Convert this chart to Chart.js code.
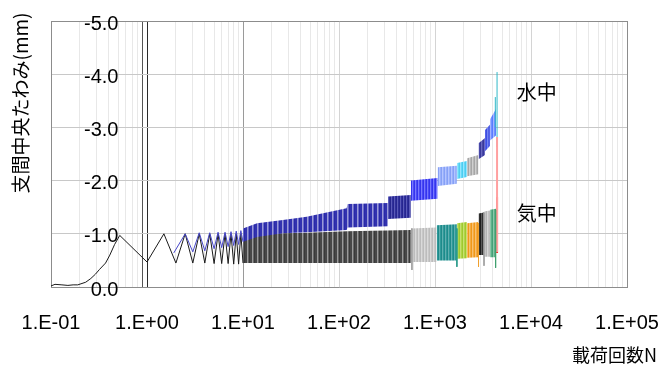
<!DOCTYPE html>
<html>
<head>
<meta charset="utf-8">
<script src="https://cdn.jsdelivr.net/npm/chart.js@4"></script>
<style>
  html, body { margin: 0; padding: 0; background: #fff; }
  #wrap { width: 672px; height: 365px; }
</style>
</head>
<body>
<div id="wrap"><canvas id="c" width="672" height="365"></canvas></div>
<script>
// axis ticks
const xTicks = [0.1, 1, 10, 100, 1000, 10000, 100000];
const xTickLabels = ['1.E-01', '1.E+00', '1.E+01', '1.E+02', '1.E+03', '1.E+04', '1.E+05'];
const yTicks = [-5, -4, -3, -2, -1, 0];
const yTickLabels = ['-5.0', '-4.0', '-3.0', '-2.0', '-1.0', '0.0'];

// 気中: first cycles, one point per peak / trough
const airZigN = [0.1, 0.11, 0.13, 0.15, 0.17, 0.19, 0.23, 0.26, 0.29, 0.32, 0.37, 0.41, 0.46, 0.52,
                 1, 1.5, 2, 2.5, 3, 3.5, 4, 4.5, 5, 5.5, 6, 6.5, 7, 7.5, 8, 8.5, 9, 9.5, 10];
const airZigD = [-0.02, -0.05, -0.04, -0.03, -0.04, -0.04, -0.09, -0.16, -0.24, -0.33, -0.45, -0.6, -0.8, -0.97,
                 -0.47, -1.0, -0.45, -1.0, -0.45, -1.0, -0.45, -1.0, -0.44, -1.0, -0.44, -1.0, -0.44, -1.0, -0.43, -1.0, -0.43, -1.0, -0.45];

// 水中: first cycles
const waterZigN = [1.9, 2.5, 3, 3.5, 4, 4.5, 5, 5.5, 6, 6.5, 7, 7.5, 8, 8.5, 9, 9.5, 10];
const waterZigD = [-0.64, -1.0, -0.66, -1.02, -0.68, -1.02, -0.72, -1.03, -0.74, -1.03, -0.76, -1.04, -0.78, -1.05, -0.8, -1.06, -0.85];

// 気中: later cycles as min/max envelopes, one block per recording
const airBandN = [[10, 16, 46, 121, 316, 560], [560, 1040], [1040, 1690], [1690, 2160],
                  [2160, 2840], [2840, 3240], [3240, 3730], [3730, 4330]];
const airBandMax = [[-0.98, -1.0, -1.02, -1.05, -1.06, -1.07], [-1.1, -1.12], [-1.16, -1.18], [-1.2, -1.22],
                    [-1.2, -1.22], [-1.38, -1.4], [-1.42, -1.44], [-1.45, -1.47]];
const airBandMin = [[-0.45, -0.45, -0.45, -0.45, -0.45, -0.45], [-0.47, -0.47], [-0.5, -0.5], [-0.53, -0.54],
                    [-0.55, -0.56], [-0.6, -0.6], [-0.57, -0.57], [-0.56, -0.56]];

// 水中: later cycles
const waterBandN = [[10, 14, 26, 46, 120, 123, 324], [324, 560], [560, 1065], [1065, 1690], [1690, 2160],
                    [2160, 2840], [2840, 3320], [3320, 3730], [3730, 4330]];
const waterBandMax = [[-1.1, -1.2, -1.26, -1.32, -1.48, -1.56, -1.58], [-1.7, -1.73], [-2.0, -2.05], [-2.25, -2.28],
                      [-2.33, -2.37], [-2.42, -2.48], [-2.7, -2.8], [-2.95, -3.05], [-3.15, -3.35]];
const waterBandMin = [[-0.85, -0.94, -1.01, -1.03, -1.07, -1.12, -1.14], [-1.28, -1.3], [-1.62, -1.66], [-1.9, -1.94],
                      [-2.03, -2.07], [-2.08, -2.12], [-2.4, -2.48], [-2.55, -2.65], [-2.75, -2.85]];

// single long strokes at block edges
const spikeN = [575, 1690, 2840, 3240, 4280, 4430, 4430, 4250, 4430];
const spikeFrom = [-1.1, -1.1, -1.2, -1.4, -1.45, -2.82, -0.64, -3.0, -2.63];
const spikeTo = [-0.32, -0.38, -0.38, -0.4, -0.36, -0.66, -1.69, -3.57, -4.04];

// styles
const airBandColors = [
    ['#474747', '#474747', '#9a9a9a', '#666666', '#3a3a3a'],
    ['#bcbcbc', '#dadada', '#c8c8c8'],
    ['#1e8a8a', '#5fb0b0', '#2f9a9a'],
    ['#9ec92e', '#c8e070', '#b0d448'],
    ['#f09818', '#f8c070', '#f4aa40'],
    ['#1e1e1e', '#5a5a5a', '#303030'],
    ['#b4b4b4', '#d8d8d8', '#c4c4c4'],
    ['#45a078', '#8ac8a8', '#5cb08a']
];
const waterBandColors = [
    ['#3232b0', '#3232b0', '#9a9ad8', '#6a6ac8', '#2a2aa8'],
    ['#26268e', '#5a5ab8', '#30309c'],
    ['#3434ee', '#7878ff', '#4a4af4'],
    ['#86a0f6', '#b4c4ff', '#98b0fa'],
    ['#4ccdf0', '#94e6ff', '#66d8f6'],
    ['#a6a6a6', '#d0d0d0', '#b8b8b8'],
    ['#38389a', '#6a6ac0', '#4848a8'],
    ['#3e4ee0', '#7484f2', '#5060e8'],
    ['#5a7cff', '#a4b4ff', '#7090ff']
];
const spikeColors = ['#a0a0a0', '#2a9a8a', '#f0a030', '#a0a0a0', '#40a070', '#ffa0a0', '#ff2020', '#30b8c8', '#30b8c8'];
const spikeWidths = [1, 1, 1, 1, 1, 2, 2, 1, 1];

function pts(ns, ds) {
    return ns.map((n, i) => ({ x: n, y: ds[i] }));
}

function stripes(cols) {
    const c = document.createElement('canvas');
    c.width = cols.length;
    c.height = 1;
    const g = c.getContext('2d');
    cols.forEach((col, i) => {
        g.fillStyle = col;
        g.fillRect(i, 0, 1, 1);
    });
    return g.createPattern(c, 'repeat');
}

const datasets = [];

function addBands(ns, maxs, mins, colors, order) {
    ns.forEach((n, i) => {
        datasets.push({
            data: pts(n, maxs[i]),
            borderColor: 'rgba(0,0,0,0)',
            borderWidth: 0,
            pointRadius: 0,
            fill: false,
            order: order
        });
        datasets.push({
            data: pts(n, mins[i]),
            borderColor: 'rgba(0,0,0,0)',
            borderWidth: 0,
            pointRadius: 0,
            fill: '-1',
            backgroundColor: stripes(colors[i]),
            order: order
        });
    });
}

addBands(airBandN, airBandMax, airBandMin, airBandColors, 6);
addBands(waterBandN, waterBandMax, waterBandMin, waterBandColors, 5);

datasets.push({
    data: pts(airZigN, airZigD),
    borderColor: '#1a1a1a',
    borderWidth: 1,
    pointRadius: 0,
    fill: false,
    order: 3
});
datasets.push({
    data: pts(waterZigN, waterZigD),
    borderColor: '#4646c8',
    borderWidth: 1,
    pointRadius: 0,
    fill: false,
    order: 2
});

spikeN.forEach((n, i) => {
    datasets.push({
        data: [{ x: n, y: spikeFrom[i] }, { x: n, y: spikeTo[i] }],
        borderColor: spikeColors[i],
        borderWidth: spikeWidths[i],
        pointRadius: 0,
        fill: false,
        order: 1
    });
});

// minor grid positions 2..9 in each decade
const gridValues = [];
xTicks.forEach((d, i) => {
    gridValues.push(d);
    if (i < xTicks.length - 1) {
        for (let k = 2; k <= 9; k++) gridValues.push(d * k);
    }
});

function xGridColor(ctx) {
    const v = ctx.tick ? ctx.tick.value : 0;
    if (Math.abs(v - 100000) < 1) return '#8c8c8c';
    if (Math.abs(v - 1) < 1e-6) return '#2a2a2a';
    if (Math.abs(v - 0.9) < 1e-6) return '#555555';
    if (Math.abs(v - 10) < 1e-6) return '#9a9a9a';
    if (xTicks.some(d => Math.abs(v - d) < d * 1e-6)) return '#d4d4d4';
    return '#e8e8e8';
}

const textPlugin = {
    id: 'texts',
    afterDraw(chart) {
        const ctx = chart.ctx;
        const xs = chart.scales.x, ys = chart.scales.y;
        ctx.save();
        ctx.fillStyle = '#000';
        ctx.textBaseline = 'middle';
        ctx.textAlign = 'left';
        ctx.font = '20px "Noto Sans CJK JP"';
        ctx.fillText('水中', xs.getPixelForValue(7100), ys.getPixelForValue(-3.65));
        ctx.fillText('気中', xs.getPixelForValue(7100), ys.getPixelForValue(-1.39));
        ctx.font = '18px "Noto Sans CJK JP"';
        ctx.textAlign = 'right';
        ctx.fillText('載荷回数N', 657, 355);
        ctx.translate(21, 103);
        ctx.rotate(-Math.PI / 2);
        ctx.textAlign = 'center';
        ctx.font = '19px "Noto Sans CJK JP"';
        ctx.fillText('支間中央たわみ(mm)', 0, 0);
        ctx.restore();
    }
};

new Chart(document.getElementById('c').getContext('2d'), {
    type: 'line',
    data: { datasets: datasets },
    options: {
        responsive: false,
        animation: false,
        events: [],
        layout: { padding: { top: 21, right: 45, left: 0, bottom: 0 } },
        plugins: {
            legend: { display: false },
            tooltip: { enabled: false }
        },
        scales: {
            x: {
                type: 'logarithmic',
                min: 0.1,
                max: 100000,
                afterBuildTicks: s => { s.ticks = gridValues.map(v => ({ value: v })); },
                afterFit: s => {
                    s.height = 78;
                    s.paddingLeft = 0;
                    s.paddingRight = 0;
                },
                ticks: {
                    autoSkip: false,
                    maxRotation: 0,
                    padding: 24,
                    color: '#000',
                    font: { family: '"Liberation Sans", Arial', size: 20 },
                    callback: v => {
                        const i = xTicks.findIndex(d => Math.abs(v - d) < d * 1e-6);
                        return i >= 0 ? xTickLabels[i] : '';
                    }
                },
                grid: { color: xGridColor, drawTicks: false, lineWidth: 1 },
                border: { display: true, color: '#8c8c8c' }
            },
            y: {
                type: 'linear',
                min: -5,
                max: 0,
                reverse: true,
                afterBuildTicks: s => { s.ticks = yTicks.map(v => ({ value: v })); },
                afterFit: s => {
                    s.width = 51;
                    s.paddingTop = 0;
                    s.paddingBottom = 0;
                },
                ticks: {
                    mirror: true,
                    crossAlign: 'far',
                    padding: 33,
                    labelOffset: 3,
                    color: '#000',
                    font: { family: '"Liberation Sans", Arial', size: 20 },
                    callback: v => {
                        const i = yTicks.indexOf(v);
                        return i >= 0 ? yTickLabels[i] : '';
                    }
                },
                grid: {
                    color: ctx => (ctx.tick && ctx.tick.value === -5) ? '#8c8c8c' : '#c8c8c8',
                    drawTicks: false,
                    lineWidth: 1
                },
                border: { display: true, color: '#8c8c8c' }
            }
        }
    },
    plugins: [textPlugin]
});
</script>
</body>
</html>
